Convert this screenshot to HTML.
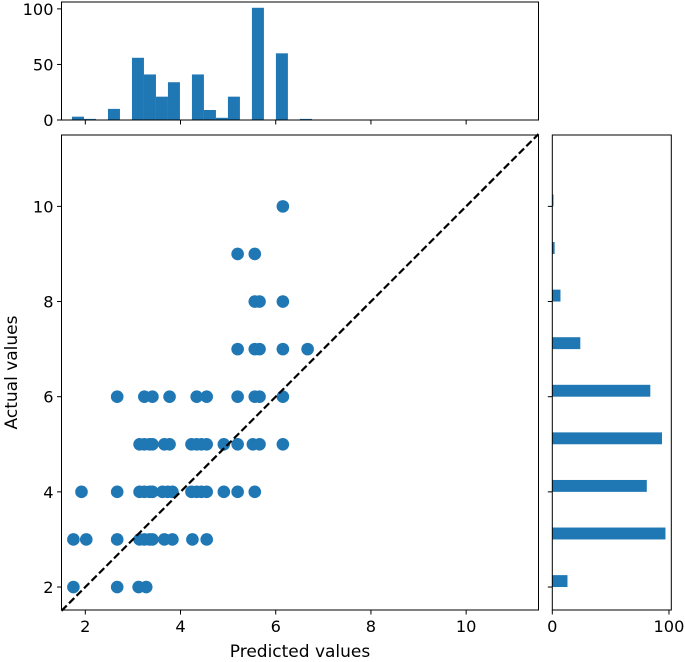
<!DOCTYPE html>
<html><head><meta charset="utf-8">
<style>
html,body{margin:0;padding:0;background:#fff;}
svg{display:block;font-family:"DejaVu Sans","Liberation Sans",sans-serif;}
</style></head>
<body>
<svg id="chart" width="685" height="662" viewBox="0 0 685 662" xmlns="http://www.w3.org/2000/svg"></svg>
<script>
// scatter data: predicted (x) and actual (y)
const predX = [
 1.75, 2.67, 3.12, 3.28,
 1.75, 2.02, 2.67, 3.14, 3.24, 3.35, 3.41, 3.66, 3.83, 4.25, 4.55,
 1.92, 2.67, 3.14, 3.24, 3.35, 3.41, 3.62, 3.73, 3.83, 4.23, 4.34, 4.44, 4.55, 4.91, 5.2, 5.56,
 3.14, 3.24, 3.35, 3.41, 3.66, 3.77, 4.23, 4.34, 4.44, 4.55, 4.91, 5.2, 5.52, 5.66, 6.15,
 2.67, 3.24, 3.41, 3.77, 4.34, 4.55, 5.2, 5.56, 5.66, 6.15,
 5.2, 5.56, 5.66, 6.15, 6.67,
 5.56, 5.66, 6.15,
 5.2, 5.56,
 6.15
];
const actY = [
 2, 2, 2, 2,
 3, 3, 3, 3, 3, 3, 3, 3, 3, 3, 3,
 4, 4, 4, 4, 4, 4, 4, 4, 4, 4, 4, 4, 4, 4, 4, 4,
 5, 5, 5, 5, 5, 5, 5, 5, 5, 5, 5, 5, 5, 5, 5,
 6, 6, 6, 6, 6, 6, 6, 6, 6, 6,
 7, 7, 7, 7, 7,
 8, 8, 8,
 9, 9,
 10
];
// top histogram (predicted): bin start, bin width, counts
const topBinStart = 1.72;
const topBinWidth = 0.252;
const topCounts = [3, 1, 0, 10, 0, 56, 41, 21, 34, 0, 41, 9, 2, 21, 0, 101, 0, 60, 0, 1];
// right histogram (actual)
const rightBins = [2, 3, 4, 5, 6, 7, 8, 9, 10];
const rightBinWidth = 0.25;
const rightCounts = [13, 97, 81, 94, 84, 24, 7, 2, 1];
const xTicks = [2, 4, 6, 8, 10];
const yTicks = [2, 4, 6, 8, 10];
const topYTicks = [0, 50, 100];
const rightXTicks = [0, 100];

const NS = "http://www.w3.org/2000/svg";
const svg = document.getElementById("chart");
const C = "#1f77b4";
const FT = 16.2, FL = 17;
function mk(tag, attrs, parent) {
  const e = document.createElementNS(NS, tag);
  for (const k in attrs) e.setAttribute(k, attrs[k]);
  (parent || svg).appendChild(e);
  return e;
}
const M = {l: 61.5, r: 538.5, t: 135, b: 610};
const xMin = 1.5, xMax = 11.52, yMin = 1.517, yMax = 11.5;
const sx = v => M.l + (v - xMin) / (xMax - xMin) * (M.r - M.l);
const sy = v => M.b - (v - yMin) / (yMax - yMin) * (M.b - M.t);
const T = {t: 2, b: 120};
const topMax = 106.2;
const sty = v => T.b - v / topMax * (T.b - T.t);
const R = {l: 552.3, r: 671.3};
const rMax = 102;
const srx = v => R.l + v / rMax * (R.r - R.l);

// ---- main scatter
const gMain = mk("g", {});


for (let i = 0; i < predX.length; i++) {
  const c = mk("circle", {cx: sx(predX[i]), cy: sy(actY[i]), r: 6.3, fill: C}, gMain);
  
  
}
const diag = mk("line", {x1: sx(xMin), y1: sy(xMin), x2: sx(xMax), y2: sy(xMax), stroke: "#000", "stroke-width": 2.2, "stroke-dasharray": "7.4,3.2"});


const frame = mk("rect", {x: M.l, y: M.t, width: M.r - M.l, height: M.b - M.t, fill: "none", stroke: "#000", "stroke-width": 1});


xTicks.forEach(v => {
  mk("line", {x1: sx(v), y1: M.b, x2: sx(v), y2: M.b + 4.5, stroke: "#000"});
  const t = mk("text", {x: sx(v), y: M.b + 22, "text-anchor": "middle", "font-size": FT, fill: "#000"});
  t.textContent = v;
  
  
  mk("line", {x1: sx(v), y1: T.b, x2: sx(v), y2: T.b + 4.5, stroke: "#000"});
});
yTicks.forEach(v => {
  mk("line", {x1: M.l - 4.5, y1: sy(v), x2: M.l, y2: sy(v), stroke: "#000"});
  const t = mk("text", {x: M.l - 8, y: sy(v) + 6, "text-anchor": "end", "font-size": FT, fill: "#000"});
  t.textContent = v;
  
  
  mk("line", {x1: R.l - 4.5, y1: sy(v), x2: R.l, y2: sy(v), stroke: "#000"});
});
const xl = mk("text", {x: (M.l + M.r) / 2, y: 657, "text-anchor": "middle", "font-size": FL, fill: "#000"});
xl.textContent = "Predicted values";


const yl = mk("text", {x: 0, y: 0, "text-anchor": "middle", "font-size": FL, fill: "#000", transform: "translate(17," + ((M.t + M.b) / 2) + ") rotate(-90)"});
yl.textContent = "Actual values";



// ---- top histogram
const gTop = mk("g", {});


topCounts.forEach((c, i) => {
  if (c <= 0) return;
  const x0 = sx(topBinStart + i * topBinWidth), x1 = sx(topBinStart + (i + 1) * topBinWidth);
  const b = mk("rect", {x: x0, y: sty(c), width: x1 - x0, height: T.b - sty(c), fill: C}, gTop);
  
  
});
const tf = mk("rect", {x: M.l, y: T.t, width: M.r - M.l, height: T.b - T.t, fill: "none", stroke: "#000"});


topYTicks.forEach(v => {
  mk("line", {x1: M.l - 4.5, y1: sty(v), x2: M.l, y2: sty(v), stroke: "#000"});
  const t = mk("text", {x: M.l - 8, y: sty(v) + 6, "text-anchor": "end", "font-size": FT, fill: "#000"});
  t.textContent = v;
  
  
});

// ---- right histogram
const gRight = mk("g", {});


rightCounts.forEach((c, i) => {
  const y0 = sy(rightBins[i] + rightBinWidth), y1 = sy(rightBins[i]);
  const b = mk("rect", {x: R.l, y: y0, width: srx(c) - R.l, height: y1 - y0, fill: C}, gRight);
  
  
});
const rf = mk("rect", {x: R.l, y: M.t, width: R.r - R.l, height: M.b - M.t, fill: "none", stroke: "#000"});


rightXTicks.forEach(v => {
  mk("line", {x1: srx(v), y1: M.b, x2: srx(v), y2: M.b + 4.5, stroke: "#000"});
  const t = mk("text", {x: srx(v), y: M.b + 22, "text-anchor": "middle", "font-size": FT, fill: "#000"});
  t.textContent = v;
  
  
});
</script>
</body></html>
